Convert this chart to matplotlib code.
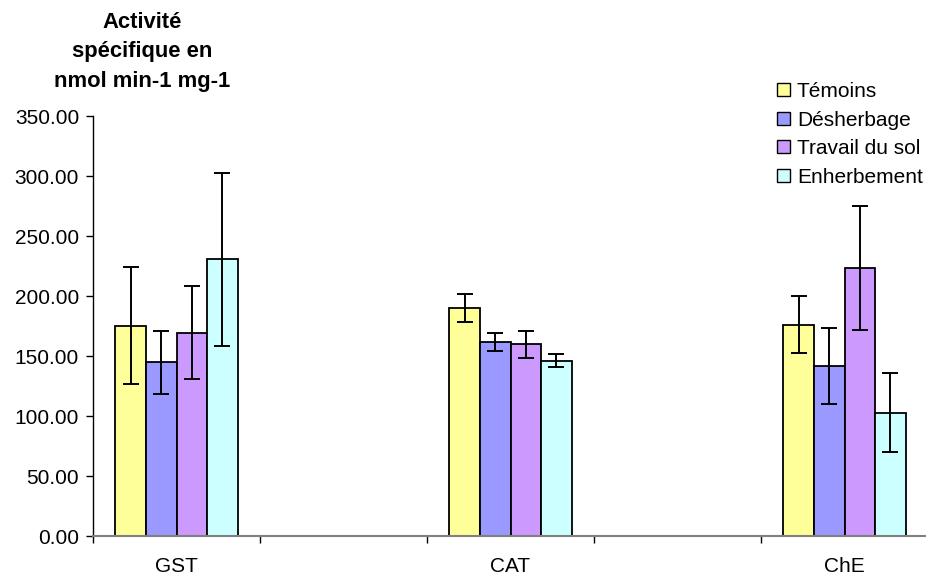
import matplotlib
matplotlib.use("Agg")
import matplotlib.pyplot as plt
from matplotlib.patches import Patch
import numpy as np

plt.rcParams['font.family'] = ['Liberation Sans', 'DejaVu Sans']

categories = ["GST", "", "CAT", "", "ChE"]
series = ["Témoins", "Désherbage", "Travail du sol", "Enherbement"]
temoins = [175.3, np.nan, 190.0, np.nan, 176.1]
temoins_err = [48.5, np.nan, 11.8, np.nan, 23.6]
desherbage = [144.7, np.nan, 161.4, np.nan, 141.7]
desherbage_err = [26.4, np.nan, 7.6, np.nan, 32.0]
travail = [169.4, np.nan, 159.7, np.nan, 223.3]
travail_err = [38.9, np.nan, 11.1, np.nan, 51.4]
enherbement = [230.6, np.nan, 146.1, np.nan, 102.8]
enherbement_err = [72.1, np.nan, 5.2, np.nan, 32.7]
yticks = [0, 50, 100, 150, 200, 250, 300, 350]

colors = ["#FFFF99", "#9999FF", "#CC99FF", "#CCFFFF"]
values = [temoins, desherbage, travail, enherbement]
errors = [temoins_err, desherbage_err, travail_err, enherbement_err]

W, H = 926, 579
fig = plt.figure(figsize=(W / 100, H / 100), dpi=100)
ax = fig.add_axes([93 / W, (H - 536) / H, (928 - 93) / W, 420 / H])

x = np.arange(len(categories))
bw = 0.183
for i, (vals, errs, c) in enumerate(zip(values, errors, colors)):
    off = (i - 1.5) * bw
    ax.bar(x + off, vals, bw, color=c, edgecolor="black", linewidth=1.3, zorder=2)
    ax.errorbar(x + off, vals, yerr=errs, fmt="none", ecolor="black",
                elinewidth=1.4, capsize=5.6, capthick=1.4, zorder=3)

ax.set_xlim(-0.5, 4.5)
ax.set_ylim(0, 350)
ax.set_yticks(yticks)
ax.set_yticklabels([f"{v:.2f}" for v in yticks], fontsize=15)
ax.set_xticks([0, 2, 4])
ax.set_xticklabels(["GST", "CAT", "ChE"], fontsize=15)
ax.tick_params(axis="x", which="major", length=0, pad=15)
ax.set_xticks([-0.5, 0.5, 1.5, 2.5, 3.5, 4.5], minor=True)
ax.tick_params(axis="x", which="minor", length=5, width=1, color="black")
ax.tick_params(axis="y", length=5, width=1, pad=5)
for s in ["top", "right"]:
    ax.spines[s].set_visible(False)
ax.spines["left"].set_color("black")
ax.spines["left"].set_linewidth(1)
ax.spines["bottom"].set_color("#808080")
ax.spines["bottom"].set_linewidth(1.5)

fig.text(142 / W, (H - 52) / H, "Activité\nspécifique en\nnmol min-1 mg-1",
         ha="center", va="center", multialignment="center",
         fontsize=15.8, fontweight="bold", linespacing=1.5)

handles = [Patch(facecolor=c, edgecolor="black", linewidth=1.0) for c in colors]
fig.legend(handles, series, loc="upper left",
           bbox_to_anchor=(777 / W, (H - 82) / H), bbox_transform=fig.transFigure,
           frameon=False, fontsize=15, handlelength=0.6, handleheight=0.6,
           handletextpad=0.35, labelspacing=0.46, borderpad=0, borderaxespad=0)

fig.savefig("out.png", dpi=100)
